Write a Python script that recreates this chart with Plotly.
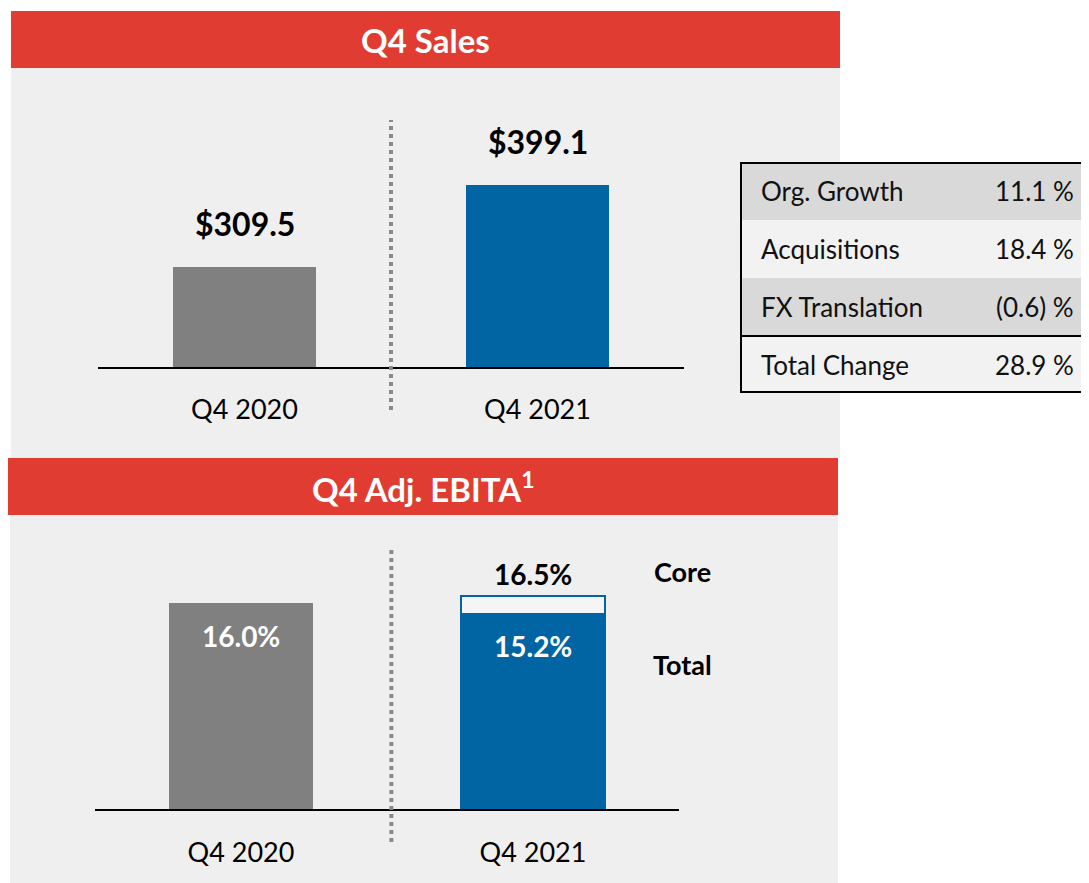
import plotly.graph_objects as go

# ---------------- data ----------------
categories = ["Q4 2020", "Q4 2021"]
sales = [309.5, 399.1]
ebita_total = [16.0, 15.2]
ebita_core = [16.5]
table_labels = ["Org. Growth", "Acquisitions", "FX Translation", "Total Change"]
table_values = ["11.1 %", "18.4 %", "(0.6) %", "28.9 %"]
title_sales = "Q4 Sales"
title_ebita = "Q4 Adj. EBITA<sup>1</sup>"

# ---------------- style ----------------
W, H = 1089, 883
OFF = 8  # page body margin
FW, FH = W - OFF, H - OFF
FONT = "Lato"
RED = "#e03c31"
GRAY_BAR = "#808080"
BLUE = "#0065a2"
PANEL = "#efefef"
ROW_DARK = "#d9d9d9"
ROW_LIGHT = "#f2f2f2"


def px(x):
    return (x - OFF) / FW


def py(y):
    return 1 - (y - OFF) / FH


fig = go.Figure()

# top chart bars
fig.add_trace(go.Bar(
    x=categories, y=sales, width=0.49,
    marker=dict(color=[GRAY_BAR, BLUE], line=dict(width=0)),
    xaxis="x", yaxis="y", showlegend=False, hoverinfo="skip"))

# bottom chart: core outline bar behind, total bars in front
fig.add_trace(go.Bar(
    x=categories[1:], y=ebita_core, width=0.49,
    marker=dict(color="#f5f5f5", line=dict(color=BLUE, width=2)),
    xaxis="x2", yaxis="y2", showlegend=False, hoverinfo="skip"))
fig.add_trace(go.Bar(
    x=categories, y=ebita_total, width=0.49,
    marker=dict(color=[GRAY_BAR, BLUE], line=dict(width=0)),
    xaxis="x2", yaxis="y2", showlegend=False, hoverinfo="skip"))

shapes = []
annotations = []


def ann(text, x, y, size, color="black", xanchor="center", yanchor="middle",
        xref="paper", yref="paper", yshift=0):
    annotations.append(dict(text=text, x=x, y=y, xref=xref, yref=yref,
                            xanchor=xanchor, yanchor=yanchor, yshift=yshift,
                            showarrow=False,
                            font=dict(family=FONT, size=size, color=color)))


def rect(x0, y0, x1, y1, fill, layer="below", line=None):
    shapes.append(dict(type="rect", xref="paper", yref="paper", layer=layer,
                       x0=px(x0), x1=px(x1), y0=py(y1), y1=py(y0),
                       fillcolor=fill, line=line or dict(width=0)))


# panels
rect(11, 68, 840, 458, PANEL)
rect(10, 515, 838, 884, PANEL)
# headers
rect(11, 11, 840, 68, RED)
rect(8, 458, 838, 515, RED)
ann(f"<b>{title_sales}</b>", px(425), py(40), 33, "white")
ann(f"<b>{title_ebita}</b>", px(423), py(487), 33, "white")

# dotted dividers
shapes.append(dict(type="line", xref="x", yref="paper", x0=0.5, x1=0.5,
                   y0=py(410), y1=py(120),
                   line=dict(color="#8a8a8a", width=4, dash="4px,4px")))
shapes.append(dict(type="line", xref="x2", yref="paper", x0=0.515, x1=0.515,
                   y0=py(842), y1=py(548),
                   line=dict(color="#8a8a8a", width=4, dash="4px,4px")))

# value labels, top chart
for c, v in zip(categories, sales):
    ann(f"<b>${v:.1f}</b>", c, v, 32, xref="x", yref="y", yshift=43)
# value labels, bottom chart
for c, v in zip(categories, ebita_total):
    ann(f"<b>{v:.1f}%</b>", c, v, 28, "white", xref="x2", yref="y2", yshift=-33)
ann(f"<b>{ebita_core[0]:.1f}%</b>", categories[1], ebita_core[0], 28,
    xref="x2", yref="y2", yshift=22)
ann("<b>Core</b>", px(683), py(571), 27)
ann("<b>Total</b>", px(682), py(664), 27)

# table
row_edges = [162, 220, 278, 336, 393]
row_fills = [ROW_DARK, ROW_LIGHT, ROW_DARK, ROW_LIGHT]
for i, (lab, val) in enumerate(zip(table_labels, table_values)):
    y0, y1 = row_edges[i], row_edges[i + 1]
    rect(740, y0, 1095, y1, row_fills[i])
    yc = (y0 + y1) / 2
    ann(lab, px(759), py(yc), 26, "#111111", xanchor="left")
    ann(val, px(1076), py(yc), 26, "#111111", xanchor="right")
shapes.append(dict(type="line", xref="paper", yref="paper",
                   x0=px(740), x1=px(1095), y0=py(336), y1=py(336),
                   line=dict(color="black", width=2)))
rect(741, 163, 1100, 392, "rgba(0,0,0,0)", layer="above",
     line=dict(color="black", width=2))

axis_common = dict(type="category", categoryorder="array", categoryarray=categories,
                   showgrid=False, zeroline=False,
                   showline=True, linecolor="black", linewidth=2,
                   ticks="outside", ticklen=0,
                   tickfont=dict(family=FONT, size=27, color="black"),
                   range=[-0.5, 1.5], fixedrange=True)

fig.update_layout(
    width=FW, height=FH,
    margin=dict(l=0, r=0, t=0, b=0),
    paper_bgcolor="white", plot_bgcolor="rgba(0,0,0,0)",
    barmode="overlay", bargap=0,
    font=dict(family=FONT),
    xaxis=dict(domain=[px(98), px(684)], anchor="y", ticklabelstandoff=18,
               **axis_common),
    yaxis=dict(domain=[py(367), py(120)], range=[200, 470], visible=False,
               showgrid=False, zeroline=False, fixedrange=True),
    xaxis2=dict(domain=[px(95), px(679)], anchor="y2", ticklabelstandoff=19,
                **axis_common),
    yaxis2=dict(domain=[py(809), py(548)], range=[0, 20.23], visible=False,
                showgrid=False, zeroline=False, fixedrange=True),
    shapes=shapes,
    annotations=annotations,
)

fig.write_html("out.html")
